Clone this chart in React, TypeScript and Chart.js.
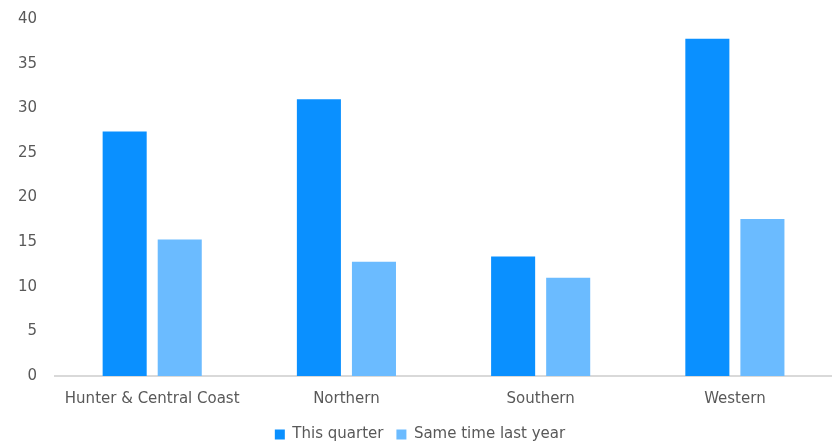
import React, { useEffect, useRef } from "react";
import { Chart, registerables } from "chart.js";

Chart.register(...registerables);

const categories = ["Hunter & Central Coast", "Northern", "Southern", "Western"];
const thisQuarter = [27.4, 31.0, 13.4, 37.8];
const lastYear = [15.3, 12.8, 11.0, 17.6];
const seriesNames = ["This quarter", "Same time last year"];
const yTicks = [0, 5, 10, 15, 20, 25, 30, 35, 40];

export default function App() {
  const ref = useRef<HTMLCanvasElement | null>(null);
  useEffect(() => {
    document.body.style.margin = "0";
    const font = { family: "'DejaVu Sans', sans-serif", size: 15 };
    const chart = new Chart(ref.current!, {
      type: "bar",
      data: {
        labels: categories,
        datasets: [
          { label: seriesNames[0], data: thisQuarter, backgroundColor: "#0A90FF", borderWidth: 0 },
          { label: seriesNames[1], data: lastYear, backgroundColor: "#6BBBFF", borderWidth: 0 },
        ],
      },
      options: {
        animation: false,
        responsive: false,
        maintainAspectRatio: false,
        layout: { padding: { left: 8, right: 0, top: 15, bottom: -6 } },
        datasets: { bar: { categoryPercentage: 0.567, barPercentage: 0.8 } },
        plugins: {
          legend: {
            position: "bottom",
            labels: { font, color: "#595959", boxWidth: 10, boxHeight: 10, padding: 13 },
          },
          tooltip: { enabled: false },
        },
        scales: {
          x: {
            grid: { display: false },
            border: { display: true, color: "#d9d9d9", width: 2 },
            ticks: { font, color: "#595959", padding: 6 },
          },
          y: {
            min: 0,
            max: 40,
            afterBuildTicks: (axis: any) => {
              axis.ticks = yTicks.map((v) => ({ value: v }));
            },
            grid: { display: false },
            border: { display: false },
            ticks: { font, color: "#595959", padding: 10 },
          },
        },
      },
    });
    return () => chart.destroy();
  }, []);
  return <canvas ref={ref} width={832} height={446} style={{ display: "block" }} />;
}
